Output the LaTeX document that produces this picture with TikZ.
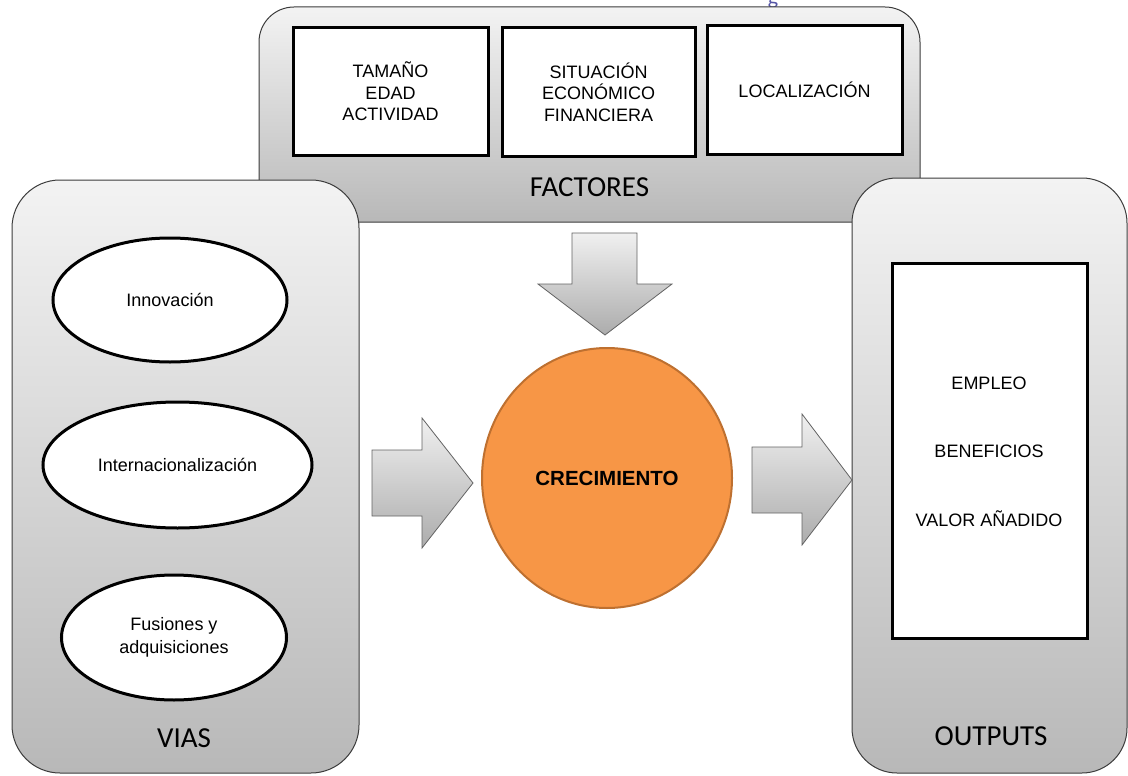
\documentclass[tikz,border=0pt]{standalone}
\usepackage{fontspec}
\setmainfont{Liberation Sans}
\newfontfamily\calibrifont{Carlito}
\usetikzlibrary{shapes.geometric}
\definecolor{boxtop}{RGB}{243,243,243}
\definecolor{boxbot}{RGB}{184,184,184}
\definecolor{boxline}{RGB}{60,60,60}
\definecolor{orangefill}{RGB}{247,150,70}
\definecolor{orangeline}{RGB}{190,112,48}
\definecolor{arrtop}{RGB}{240,240,240}
\definecolor{arrbot}{RGB}{172,172,172}
\definecolor{captionblue}{RGB}{84,84,166}
\begin{document}
\begin{tikzpicture}[x=1pt,y=-1pt,
  panel/.style={draw=boxline, line width=1pt, top color=boxtop, bottom color=boxbot, rounded corners=#1, inner sep=0pt},
  wbox/.style={draw=black, line width=3pt, fill=white, inner sep=0pt, align=center, font=\fontsize{18}{21.5}\selectfont},
  oval/.style={ellipse, draw=black, line width=3pt, fill=white, inner sep=0pt, align=center, font=\fontsize{18}{23}\selectfont},
  lbl/.style={font=\calibrifont\fontsize{29}{32}\selectfont, inner sep=0pt},
  txt/.style={font=\fontsize{18}{21.5}\selectfont, align=center, inner sep=0pt},
  blockarrow/.style={draw=boxline!80, line width=0.8pt, top color=arrtop, bottom color=arrbot}]
\useasboundingbox (0,0) rectangle (1128,776);

% caption fragment cut at the top
\begin{scope}
\clip (0,0) rectangle (1128,776);
\node[font=\calibrifont\fontsize{22}{22}\selectfont, text=captionblue, anchor=base, inner sep=0pt] (cap) at (773,4.5) {g};
\end{scope}

% FACTORES panel
\node[panel=35pt, minimum width=661pt, minimum height=215pt] (factores) at (589.5,114.5) {};
\node[wbox, minimum width=195pt, minimum height=128pt] (f1) at (390.5,91.5) {TAMAÑO\\EDAD\\ACTIVIDAD};
\node[wbox, minimum width=193pt, minimum height=128pt] (f2) at (598.5,92) {SITUACIÓN\\ECONÓMICO\\FINANCIERA};
\node[wbox, minimum width=195pt, minimum height=128pt] (f3) at (804.5,90) {LOCALIZACIÓN};
\node[lbl] (flabel) at (589.5,187) {FACTORES};

% VIAS panel
\node[panel=48pt, minimum width=347pt, minimum height=593pt] (vias) at (185.5,476.5) {};
\node[oval, minimum width=234pt, minimum height=124pt] (innov) at (170,300) {Innovación};
\node[oval, minimum width=269pt, minimum height=126pt] (inter) at (177.5,465) {Internacionalización};
\node[oval, minimum width=225pt, minimum height=125pt] (fusi) at (174,637.5) {Fusiones y\\adquisiciones};
\node[lbl] (vlabel) at (184,738) {VIAS};

% OUTPUTS panel
\node[panel=45pt, minimum width=275pt, minimum height=595pt] (outputs) at (989.5,475.5) {};
\node[wbox, minimum width=195pt, minimum height=375pt] (outbox) at (989.5,450.5) {};
\node[txt] (o1) at (989,383) {EMPLEO};
\node[txt] (o2) at (989,451) {BENEFICIOS};
\node[txt] (o3) at (989,519) {VALOR AÑADIDO};
\node[lbl] (olabel) at (991,736) {OUTPUTS};

% central circle
\node[ellipse, draw=orangeline, line width=2pt, fill=orangefill, minimum width=250pt, minimum height=260pt, inner sep=0pt, font=\bfseries\fontsize{20.5}{24}\selectfont] (crec) at (607,478) {CRECIMIENTO};

% block arrows
\path[blockarrow] (572,233) -- (637,233) -- (637,284) -- (672,284) -- (605,335) -- (538,284) -- (572,284) -- cycle;
\path[blockarrow] (372,450) -- (422,450) -- (422,418) -- (473,483) -- (422,548) -- (422,516) -- (372,516) -- cycle;
\path[blockarrow] (752,447) -- (802,447) -- (802,414) -- (852,480) -- (802,545) -- (802,513) -- (752,513) -- cycle;
\end{tikzpicture}
\end{document}
